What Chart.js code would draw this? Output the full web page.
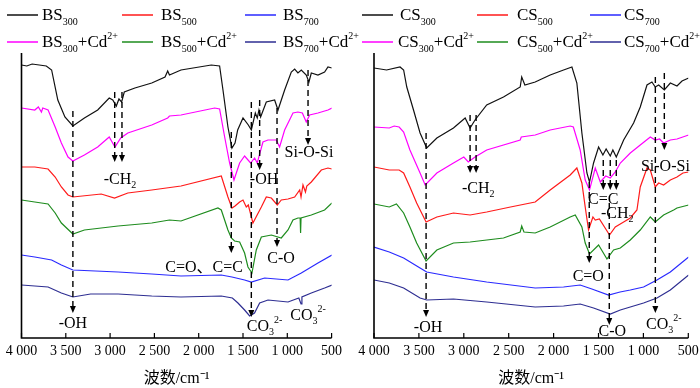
<!DOCTYPE html>
<html>
<head>
<meta charset="utf-8">
<script src="https://cdn.jsdelivr.net/npm/chart.js@4.4.0/dist/chart.umd.min.js"></script>
<style>
  body { margin: 0; background: #fff; }
  #wrap { position: relative; width: 700px; height: 388px; overflow: hidden; }
  #c1 { position: absolute; left: 0; top: 0; }
  #c2 { position: absolute; left: 350px; top: 0; }
</style>
</head>
<body>
<div id="wrap">
  <canvas id="c1" width="370" height="388"></canvas>
  <canvas id="c2" width="350" height="388"></canvas>
</div>
<script>
'use strict';

// x tick values (wavenumber, cm-1)
var xTicks = [4000, 3500, 3000, 2500, 2000, 1500, 1000, 500];

// BS spectra: [wavenumber, relative transmittance (a.u., stacked)]
var BS300 = [[4000,273],[3940,272],[3880,274],[3800,273],[3720,272],[3660,268],[3590,238],[3510,221],[3420,212],[3290,220],[3140,228],[3010,240],[2970,238],[2930,232],[2900,239],[2870,236],[2840,246],[2720,250],[2530,255],[2380,261],[2350,267],[2330,263],[2200,268],[1858,273],[1764,272],[1726,248],[1670,211],[1625,190],[1590,195],[1560,208],[1500,220],[1440,213],[1406,208],[1361,225],[1339,220],[1320,228],[1301,221],[1237,236],[1143,238],[1105,228],[1030,248],[955,266],[917,269],[880,265],[842,268],[786,263],[756,256],[729,265],[654,263],[579,266],[541,271],[496,270]];
var BS300Cd = [[4000,230],[3850,228],[3810,231],[3775,226],[3760,230],[3700,228],[3620,211],[3550,195],[3475,181],[3420,177],[3290,183],[3140,191],[3010,201],[2945,191],[2880,200],[2800,205],[2530,213],[2350,220],[2330,222],[2200,223],[1820,230],[1764,229],[1707,201],[1651,175],[1602,158],[1538,175],[1482,182],[1414,175],[1369,180],[1339,175],[1275,196],[1218,198],[1124,198],[1087,191],[1030,208],[936,225],[880,226],[830,225],[786,216],[748,223],[654,225],[541,228],[496,230]];
var BS500 = [[4000,171],[3850,171],[3775,170],[3700,169],[3620,161],[3550,151],[3475,143],[3420,141],[3100,144],[2950,140],[2800,145],[2530,148],[2200,152],[1745,162],[1670,141],[1625,130],[1590,132],[1538,136],[1500,138],[1463,131],[1440,133],[1388,115],[1293,131],[1237,141],[1180,140],[1113,133],[1068,138],[992,139],[917,141],[860,148],[845,141],[823,153],[795,146],[780,152],[729,156],[616,168],[541,170],[496,169]];
var BS500Cd = [[4000,138],[3850,136],[3775,135],[3700,134],[3620,125],[3550,115],[3420,104],[3290,108],[2910,112],[2530,115],[2330,118],[2200,117],[1783,130],[1745,128],[1670,108],[1632,100],[1595,97],[1538,96],[1482,85],[1444,71],[1399,65],[1350,88],[1293,101],[1180,103],[1068,100],[992,108],[936,118],[880,120],[855,120],[850,105],[845,120],[729,123],[579,128],[496,135]];
var BS700 = [[4000,83],[3850,81],[3660,78],[3550,73],[3420,68],[2910,66],[2530,64],[2200,62],[1745,63],[1625,61],[1482,58],[1406,56],[1256,60],[992,58],[842,65],[654,75],[496,83]];
var BS700Cd = [[4000,53],[3700,51],[3550,45],[3420,41],[3220,44],[2910,44],[2530,42],[2200,41],[1745,42],[1620,40],[1557,35],[1482,28],[1425,22],[1370,25],[1312,35],[1218,38],[992,36],[870,40],[845,34],[835,41],[729,45],[579,50],[496,53]];

// CS spectra
var CS300 = [[4000,270],[3860,268],[3710,271],[3670,268],[3635,251],[3560,228],[3487,205],[3413,190],[3300,200],[3115,210],[2985,220],[2930,210],[2875,218],[2745,233],[2558,241],[2372,251],[2355,261],[2320,253],[2205,256],[2038,263],[1889,268],[1796,271],[1741,255],[1685,205],[1629,165],[1600,156],[1555,175],[1499,191],[1451,183],[1415,189],[1369,182],[1340,188],[1302,181],[1220,198],[1109,215],[1035,231],[960,253],[905,256],[868,251],[830,253],[767,248],[700,255],[626,252],[570,257],[496,260]];
var CS300Cd = [[4000,211],[3830,210],[3775,212],[3720,211],[3670,206],[3600,188],[3487,165],[3430,153],[3300,165],[3115,175],[3000,181],[2950,176],[2875,181],[2745,188],[2372,198],[2360,201],[2205,203],[2038,208],[1815,212],[1780,211],[1704,188],[1648,158],[1600,148],[1536,170],[1480,156],[1420,162],[1369,160],[1313,166],[1257,175],[1146,185],[1035,193],[923,201],[868,198],[820,199],[775,195],[700,198],[626,199],[496,203]];
var CS500 = [[4000,171],[3830,168],[3720,168],[3670,165],[3600,151],[3525,135],[3420,116],[3300,121],[3115,125],[2930,123],[2745,126],[2480,131],[2205,136],[2038,148],[1815,163],[1741,170],[1685,155],[1648,131],[1611,108],[1562,121],[1536,118],[1490,119],[1377,103],[1313,111],[1220,116],[1146,120],[1072,128],[1035,151],[960,170],[923,168],[868,151],[830,155],[775,153],[700,158],[626,161],[560,165],[496,166]];
var CS500Cd = [[4000,134],[3830,131],[3750,134],[3670,125],[3600,111],[3525,95],[3420,77],[3300,88],[3115,95],[2930,96],[2558,100],[2372,106],[2355,112],[2330,106],[2205,105],[2038,111],[1815,121],[1759,123],[1685,111],[1648,95],[1600,84],[1499,93],[1406,79],[1332,88],[1257,90],[1146,98],[1035,108],[923,121],[868,116],[775,123],[663,128],[626,130],[496,133]];
var CS700 = [[4000,91],[3830,86],[3670,80],[3487,70],[3413,66],[3115,61],[2745,56],[2205,50],[1889,51],[1704,53],[1574,49],[1388,43],[1260,46],[1146,48],[998,51],[849,58],[700,66],[496,81]];
var CS700Cd = [[4000,58],[3830,55],[3670,50],[3487,40],[3413,38],[3115,39],[2745,36],[2205,31],[1889,32],[1704,34],[1555,30],[1369,24],[1257,28],[998,35],[849,40],[700,48],[496,63]];

// peak marks: [wavenumber, start value, arrow tip value]
var bsMarks = [[3420,227,25],[2948,246,176],[2866,246,176],[1632,206,85],[1406,236,21],[1312,238,168],[1116,230,91],[766,268,193]];
var csMarks = [[3420,205,21],[2930,223,165],[2863,223,165],[1603,156,75],[1447,178,148],[1369,178,148],[1302,178,148],[1380,135,13],[867,261,25],[767,265,188]];

// peak labels: [wavenumber, value, text parts]
var bsLabels = [
  [3420, 16, [['-OH']]],
  [2888, 160, [['-CH'], ['2', 'sub']]],
  [1940, 72, [['C=O、C=C']]],
  [1257, 13, [['CO'], ['3', 'sub'], ['2-', 'sup']]],
  [1262, 160, [['-OH']]],
  [1071, 81, [['C-O']]],
  [755, 187, [['Si-O-Si']]],
  [766, 24, [['CO'], ['3', 'sub'], ['2-', 'sup']]]
];
var csLabels = [
  [3398, 12, [['-OH']]],
  [2840, 151, [['-CH'], ['2', 'sub']]],
  [1614, 63, [['C=O']]],
  [1447, 140, [['C=C']]],
  [1291, 126, [['-CH'], ['2', 'sub']]],
  [1347, 8, [['C-O']]],
  [773, 15, [['CO'], ['3', 'sub'], ['2-', 'sup']]],
  [755, 173, [['Si-O-Si']]]
];

var colors = ['#111111', '#ff1a1a', '#2a2aff', '#ff00ff', '#1e8c1e', '#2e2e92'];

function fontFor(kind, size) {
  var s = (kind === 'sub' || kind === 'sup') ? Math.round(size * 0.6) : size;
  return s + 'px "Liberation Serif", "Noto Sans CJK SC", serif';
}

function drawRich(ctx, x, y, parts, size, align) {
  var widths = parts.map(function (p) {
    ctx.font = fontFor(p[1], size);
    return ctx.measureText(p[0]).width;
  });
  var total = widths.reduce(function (a, b) { return a + b; }, 0);
  var cx = align === 'center' ? x - total / 2 : x;
  parts.forEach(function (p, i) {
    ctx.font = fontFor(p[1], size);
    var dy = p[1] === 'sub' ? size * 0.3 : (p[1] === 'sup' ? -size * 0.5 : 0);
    ctx.fillText(p[0], cx, y + dy);
    cx += widths[i];
  });
}

// legend + axes + peak marks, drawn on top of the chart
var ftirPlugin = {
  id: 'ftir',
  afterDraw: function (chart) {
    var o = chart.options.plugins.ftir;
    var ctx = chart.ctx;
    var a = chart.chartArea;
    var xs = chart.scales.x, ys = chart.scales.y;
    ctx.save();
    ctx.fillStyle = '#000';
    ctx.strokeStyle = '#000';
    ctx.textBaseline = 'alphabetic';

    // axes
    ctx.lineWidth = 1.6;
    ctx.beginPath();
    ctx.moveTo(a.left, a.top);
    ctx.lineTo(a.left, a.bottom);
    ctx.lineTo(a.right, a.bottom);
    ctx.stroke();
    ctx.lineWidth = 1.2;
    xTicks.forEach(function (t) {
      var px = xs.getPixelForValue(t);
      ctx.beginPath();
      ctx.moveTo(px, a.bottom);
      ctx.lineTo(px, a.bottom - 5);
      ctx.stroke();
    });

    // legend
    chart.data.datasets.forEach(function (ds, i) {
      var col = i % 3, row = Math.floor(i / 3);
      var lx = o.legendX[col], ly = row === 0 ? 15 : 42;
      ctx.strokeStyle = ds.borderColor;
      ctx.lineWidth = 1.5;
      ctx.beginPath();
      ctx.moveTo(lx, ly);
      ctx.lineTo(lx + 31, ly);
      ctx.stroke();
      var parts = [[o.prefix], [ds.label, 'sub']];
      if (row === 1) parts.push(['+Cd'], ['2+', 'sup']);
      drawRich(ctx, o.textX[row][col], ly + 5, parts, 17, 'left');
    });

    // dashed marks with arrows
    ctx.strokeStyle = '#000';
    ctx.lineWidth = 1.4;
    o.marks.forEach(function (m) {
      var px = xs.getPixelForValue(m[0]);
      var y0 = ys.getPixelForValue(m[1]);
      var y1 = ys.getPixelForValue(m[2]);
      ctx.setLineDash([6, 4]);
      ctx.beginPath();
      ctx.moveTo(px, y0);
      ctx.lineTo(px, y1 - 6);
      ctx.stroke();
      ctx.setLineDash([]);
      ctx.beginPath();
      ctx.moveTo(px - 3, y1 - 7);
      ctx.lineTo(px + 3, y1 - 7);
      ctx.lineTo(px, y1);
      ctx.closePath();
      ctx.fill();
    });

    o.labels.forEach(function (l) {
      drawRich(ctx, xs.getPixelForValue(l[0]), ys.getPixelForValue(l[1]) + 5.5, l[2], 16, 'center');
    });
    ctx.restore();
  }
};

function fmtTick(v) {
  if (v >= 1000) {
    var r = String(v % 1000);
    while (r.length < 3) r = '0' + r;
    return Math.floor(v / 1000) + ' ' + r;
  }
  return String(v);
}

function makeChart(id, prefix, series, pad, legendX, textX, marks, labels) {
  var names = ['300', '500', '700', '300', '500', '700'];
  return new Chart(document.getElementById(id), {
    type: 'line',
    data: {
      datasets: series.map(function (s, i) {
        return {
          label: names[i],
          data: s,
          borderColor: colors[i],
          borderWidth: 1.2,
          pointRadius: 0,
          tension: 0,
          fill: false
        };
      })
    },
    options: {
      responsive: false,
      animation: false,
      layout: { padding: pad },
      plugins: {
        legend: { display: false },
        tooltip: { enabled: false },
        ftir: { prefix: prefix, legendX: legendX, textX: textX, marks: marks, labels: labels }
      },
      scales: {
        x: {
          type: 'linear',
          reverse: true,
          min: 500,
          max: 4000,
          grid: { display: false, drawTicks: false },
          border: { display: false },
          ticks: {
            stepSize: 500,
            autoSkip: false,
            maxRotation: 0,
            padding: 5,
            color: '#000',
            font: { family: '"Liberation Serif", serif', size: 14 },
            callback: fmtTick
          },
          title: {
            display: true,
            text: '波数/cm⁻¹',
            color: '#000',
            padding: { top: 0, bottom: 0 },
            font: { family: '"Liberation Serif", "Noto Sans CJK SC", serif', size: 16 }
          },
          afterFit: function (s) {
            s.height = 50;
            s.paddingLeft = 0;
            s.paddingRight = 0;
          }
        },
        y: { display: false, min: 0, max: 285 }
      }
    },
    plugins: [ftirPlugin]
  });
}

makeChart('c1', 'BS', [BS300, BS500, BS700, BS300Cd, BS500Cd, BS700Cd],
  { left: 21.5, right: 38.4, top: 53, bottom: 0 },
  [7, 122, 245], [[42, 161, 283], [42, 161, 283]], bsMarks, bsLabels);

makeChart('c2', 'CS', [CS300, CS500, CS700, CS300Cd, CS500Cd, CS700Cd],
  { left: 24, right: 11.7, top: 53, bottom: 0 },
  [12, 127, 240], [[50, 167, 274], [48, 167, 274]], csMarks, csLabels);
</script>
</body>
</html>
